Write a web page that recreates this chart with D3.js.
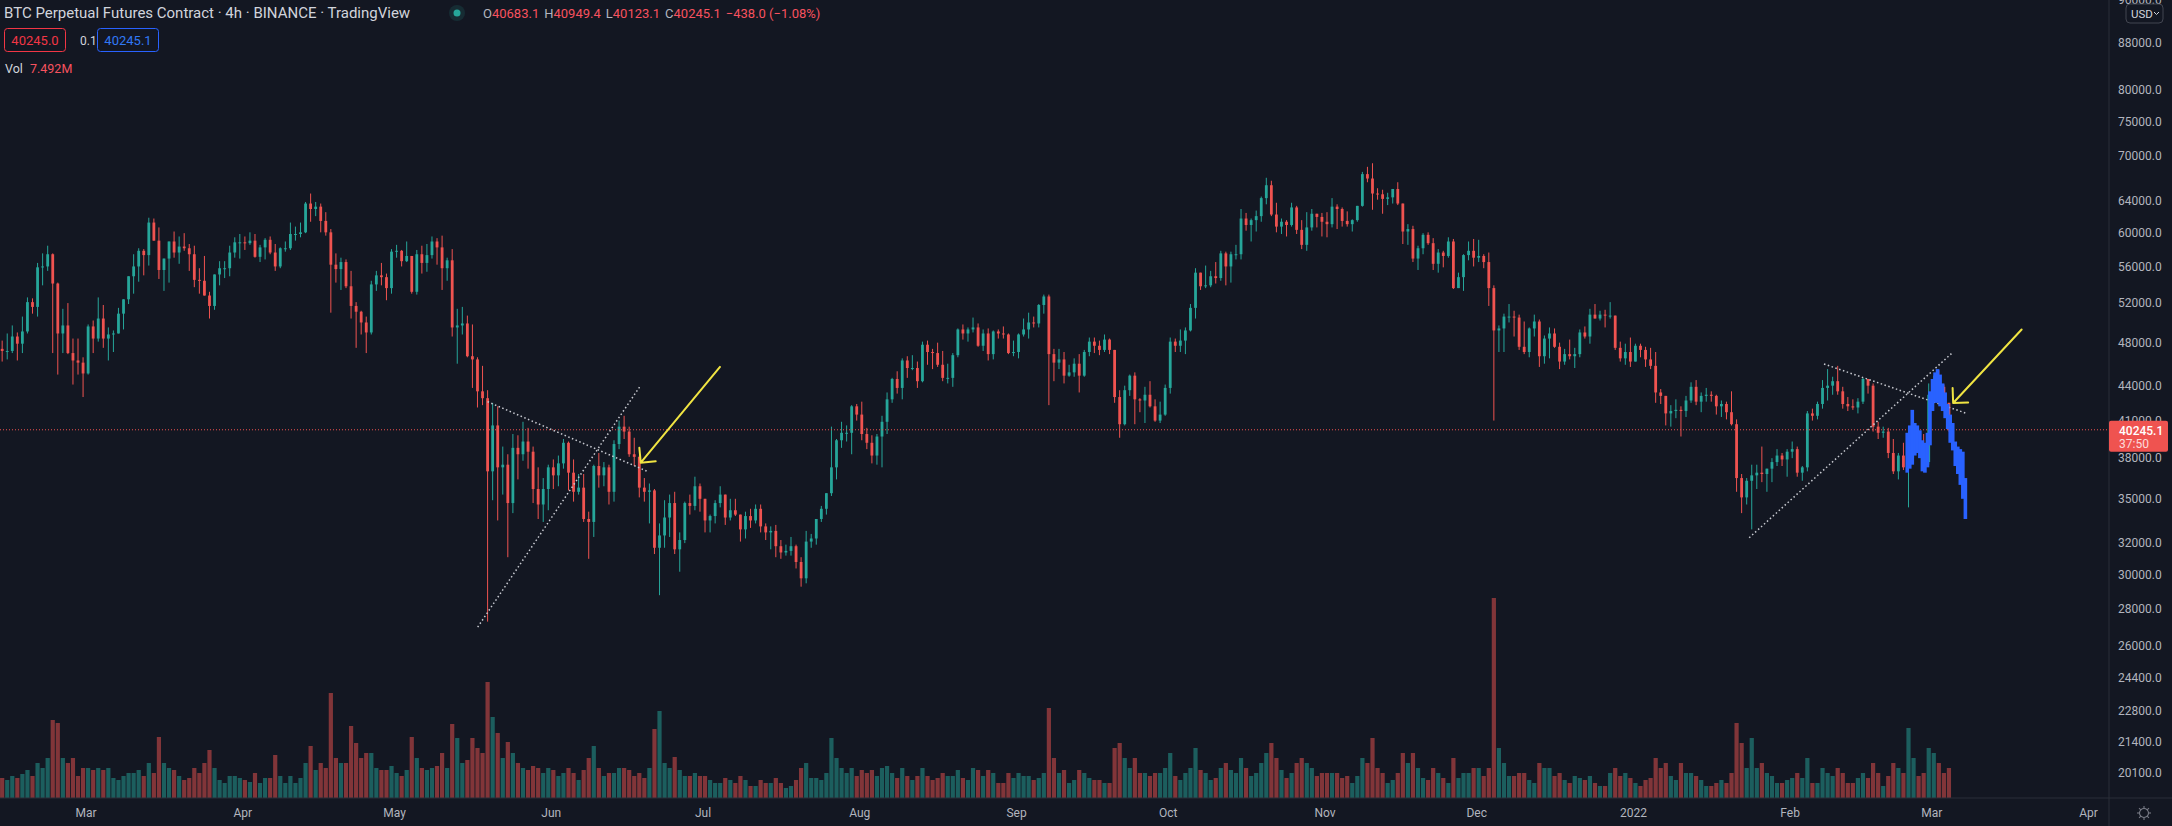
<!DOCTYPE html>
<html lang="en">
<head>
<meta charset="UTF-8">
<title>BTC Perpetual Futures Contract · 4h · BINANCE</title>
<script src="https://d3js.org/d3.v7.min.js"></script>
<style>
  html, body { margin: 0; padding: 0; background: #131722; overflow: hidden; }
  svg text { font-family: Roboto, "Noto Sans", sans-serif; }
</style>
</head>
<body>
<svg id="chart" width="2172" height="826"></svg>
<script>
// ---- data (prices in thousands USD, one candle per day from 2021-02-12) ----
const firstDay = Date.UTC(2021, 1, 12);
const firstOpenK = 47.4;

const highK = [
  // Feb 2021 (12th..28th)
  48.2,48.9,49.7,49.0,50.6,52.6,52.5,56.4,57.5,58.4,57.5,54.2,51.4,52.0,48.4,48.4,46.6,
  // Mar 2021
  49.8,50.2,52.6,51.8,49.5,49.2,51.5,52.4,54.9,57.4,58.1,58.0,61.8,61.7,60.6,56.9,58.9,60.1,59.5,59.9,58.6,58.4,55.8,57.2,53.2,55.1,56.6,56.6,58.4,59.4,59.8,
  // Apr 2021
  59.5,60.0,59.8,58.5,59.3,59.5,58.6,58.2,58.9,61.2,60.7,61.2,63.8,64.9,63.8,63.6,62.5,60.4,57.5,57.0,56.8,55.5,52.1,51.2,50.6,54.4,55.5,56.4,55.2,58.0,
  // May 2021
  58.5,57.9,58.9,57.2,57.9,58.4,58.6,59.5,59.3,59.6,57.0,58.0,51.4,51.6,50.7,49.8,46.6,45.8,43.6,42.5,42.2,38.9,38.3,39.9,39.8,40.9,40.4,38.9,37.3,36.5,37.5,
  // Jun 2021
  37.9,38.2,39.5,39.3,37.9,36.8,36.8,34.1,37.5,38.4,37.7,37.5,39.4,41.0,41.4,40.5,39.6,38.2,36.5,36.1,35.7,33.3,34.9,35.3,35.5,32.7,34.8,35.3,36.6,36.1,
  // Jul 2021
  35.0,33.9,34.9,35.9,35.3,35.0,35.0,33.9,34.1,34.3,34.6,34.6,33.3,33.1,33.2,32.2,31.9,32.4,31.9,31.1,32.8,32.6,33.6,34.5,35.4,40.5,39.5,40.9,40.6,42.3,42.4,
  // Aug 2021
  42.6,40.4,39.8,39.9,41.4,43.4,44.7,45.3,46.5,46.7,46.8,46.2,48.1,48.2,47.4,48.0,47.2,46.0,47.0,49.4,49.8,49.5,50.5,49.9,49.3,49.4,49.2,49.3,49.6,48.9,48.2,
  // Sep 2021
  48.9,50.4,51.0,50.6,51.9,52.9,52.9,47.4,47.4,47.1,45.9,46.5,46.9,47.3,48.5,48.5,48.2,48.8,48.4,47.3,43.6,44.0,45.0,45.2,42.9,43.9,44.4,42.8,42.6,44.1,
  // Oct 2021
  48.5,48.4,49.3,49.5,51.9,55.8,55.3,56.1,55.5,56.5,57.8,57.7,57.7,58.5,62.9,62.4,61.7,62.7,64.5,67.0,66.6,63.7,61.7,61.5,63.7,63.3,61.5,62.5,62.9,62.3,62.4,
  // Nov 2021
  62.5,64.3,63.5,63.1,62.6,61.6,63.3,67.8,68.5,69.0,65.6,65.4,65.0,65.5,66.4,63.6,61.0,60.8,58.4,59.9,60.0,59.3,58.0,57.8,59.4,59.2,55.3,57.4,58.9,59.2,
  // Dec 2021
  59.1,57.4,57.6,53.9,49.7,50.9,51.9,51.2,50.8,50.1,49.5,50.8,50.3,48.7,49.5,49.4,48.0,47.4,48.3,47.5,49.3,49.6,51.4,51.9,51.2,51.3,52.1,50.7,48.1,47.9,48.5,
  // Jan 2022
  47.9,47.9,47.6,47.5,47.1,43.7,43.1,42.3,42.8,42.2,43.1,44.3,44.5,43.4,43.8,43.5,43.2,42.7,42.6,43.5,41.1,36.8,36.5,37.5,37.5,38.9,37.2,38.0,38.7,38.4,38.7,
  // Feb 2022
  39.3,38.9,37.4,41.8,42.0,42.6,44.5,45.5,44.8,45.8,43.9,43.0,42.8,42.9,44.7,44.6,44.2,40.9,40.5,40.4,39.5,38.4,39.2,38.8,39.7,40.3,39.9,44.2,
  // Mar 2022 (1st..4th)
  44.9,45.4,44.1,42.5
];

const lowK = [
  46.2,46.4,47.0,46.3,47.0,48.9,50.9,50.6,53.9,55.5,47.0,45.0,47.0,46.9,44.1,45.0,43.0,
  45.0,47.0,48.1,47.5,46.3,47.1,48.9,49.3,51.9,53.0,54.3,55.0,56.1,59.0,54.6,53.3,54.2,57.0,56.3,57.8,55.5,53.7,53.0,52.8,50.4,51.3,53.9,54.7,54.9,57.0,56.9,
  57.9,58.5,57.0,56.5,56.8,57.4,55.5,55.8,57.7,57.9,59.0,59.4,59.9,61.3,62.0,60.0,59.6,51.0,54.2,53.4,53.6,50.4,47.5,48.8,47.0,48.8,53.3,53.9,52.3,53.0,
  57.0,56.0,56.5,53.0,52.9,55.2,55.4,56.9,56.2,53.4,54.4,48.6,46.0,48.8,46.6,43.8,42.1,42.3,27.3,34.9,33.5,35.3,31.1,34.0,36.4,37.8,37.2,34.7,33.6,33.4,34.2,
  35.7,35.9,37.2,35.6,34.8,35.3,33.4,31.0,32.4,35.8,35.9,34.6,34.8,38.7,39.5,38.1,37.4,35.1,34.8,33.3,31.3,28.8,31.7,32.4,31.3,30.2,32.0,33.9,34.2,34.1,
  32.7,32.7,33.3,34.4,33.2,33.5,33.8,32.1,32.3,33.0,33.3,32.7,32.2,31.6,31.1,31.0,31.2,31.2,30.4,29.3,29.5,31.7,31.9,33.4,33.9,35.2,36.4,38.8,39.3,38.3,41.0,
  39.4,38.7,37.6,37.5,37.3,39.9,42.5,43.3,42.8,44.7,45.4,43.8,44.3,45.9,45.5,45.7,44.4,44.2,43.9,46.6,48.3,48.1,49.0,47.6,47.2,46.3,46.4,48.4,48.4,46.9,46.7,
  46.5,48.6,48.4,49.5,49.5,50.9,42.3,44.4,45.5,44.2,44.8,44.8,43.4,44.8,46.7,47.0,46.8,47.1,46.9,42.5,39.6,40.6,43.1,40.7,41.7,40.8,42.1,40.9,40.8,41.4,
  43.3,47.1,47.1,46.9,49.1,50.4,53.4,53.6,53.7,54.1,54.4,53.9,54.2,56.8,56.8,60.2,58.9,60.1,61.3,63.5,62.0,60.0,59.8,59.5,60.7,59.8,58.0,57.8,60.2,60.6,59.5,
  59.4,60.6,60.4,60.7,60.7,60.1,61.3,63.2,66.4,62.8,64.1,62.3,63.4,63.6,63.4,58.6,58.5,56.5,55.6,57.4,58.5,55.6,55.3,55.9,57.0,53.5,53.6,53.3,56.7,56.0,
  56.5,55.8,51.7,41.0,47.1,47.1,50.0,48.6,47.3,46.9,46.6,48.6,45.7,46.0,46.5,47.5,45.5,45.9,46.4,45.6,46.6,48.4,47.9,50.4,50.2,49.5,50.4,47.3,46.2,45.9,45.7,
  46.2,46.6,45.7,45.5,42.5,42.4,40.6,40.5,41.2,39.7,41.3,42.5,42.3,41.7,42.6,42.6,41.5,41.3,41.1,40.6,35.5,34.0,34.6,32.9,35.7,36.2,35.5,36.2,37.4,37.4,36.6,
  38.0,36.6,36.3,37.0,41.0,41.1,42.0,42.7,43.2,43.2,42.0,41.8,41.9,41.6,42.4,43.3,40.1,39.5,39.6,38.0,36.8,36.4,37.1,34.4,38.0,38.6,37.0,37.5,
  42.8,43.3,41.8,40.1
];

const closeK = [
  47.2,47.2,48.6,47.9,49.1,52.1,51.6,55.9,56.0,57.4,54.1,48.9,49.7,47.0,46.3,46.1,45.1,
  49.6,48.4,50.4,48.4,48.8,48.9,50.9,52.4,54.9,56.0,57.8,57.3,61.2,59.0,55.6,56.9,58.9,57.6,58.3,58.1,57.4,54.5,54.4,52.8,51.7,55.1,55.8,55.8,57.6,58.8,58.8,
  58.7,59.0,57.1,58.2,59.1,57.6,56.0,58.1,58.1,59.8,59.8,60.0,63.6,62.9,63.2,61.4,60.0,56.2,55.7,56.5,53.8,51.7,51.1,50.0,49.0,54.0,55.0,54.8,53.6,57.7,
  57.8,56.6,57.2,53.2,57.4,56.4,57.3,58.9,58.2,55.8,56.7,49.5,49.7,49.9,46.7,46.4,43.5,42.9,37.0,40.6,37.3,37.5,34.7,38.8,38.3,39.3,38.5,35.7,34.6,35.7,37.3,
  36.7,37.6,39.2,36.9,35.5,35.8,33.6,33.4,37.4,36.7,37.3,35.5,39.1,40.5,40.1,38.3,38.1,35.8,35.5,35.6,31.7,32.5,33.7,34.7,31.6,32.2,34.7,34.5,35.9,35.0,
  33.5,33.8,34.7,35.3,33.7,34.2,33.9,32.9,33.8,33.5,34.3,33.1,32.7,32.8,31.8,31.4,31.5,31.8,30.8,29.8,32.1,32.3,33.6,34.3,35.4,37.3,39.4,40.0,40.0,42.2,41.5,
  39.9,39.2,38.2,39.7,40.9,42.8,44.6,43.8,46.3,45.6,45.6,44.4,47.8,47.1,47.0,45.9,44.7,44.7,46.8,49.3,48.9,49.3,49.5,47.7,48.9,46.9,49.1,48.9,48.8,47.0,47.1,
  48.8,49.3,50.0,49.9,51.8,52.7,46.9,46.1,46.4,44.9,45.2,46.0,44.9,47.1,48.1,47.7,47.3,48.3,47.3,43.0,40.7,43.6,44.9,42.8,42.7,43.2,42.2,41.0,41.5,43.8,
  48.1,47.7,48.2,49.2,51.5,55.3,53.8,53.9,54.9,54.7,57.5,56.0,57.4,57.4,61.7,60.9,61.5,62.0,64.3,66.0,62.2,60.7,61.3,60.9,63.1,60.3,58.5,60.6,62.3,61.9,61.3,
  61.0,63.2,62.9,61.4,61.0,61.5,63.3,67.5,66.9,64.9,64.8,64.2,64.4,65.5,63.6,60.1,60.4,56.9,58.1,59.7,58.7,56.3,57.6,57.2,58.9,53.6,54.8,57.3,57.8,57.0,
  57.2,56.5,53.6,49.2,49.4,50.6,50.6,50.5,47.6,47.1,49.4,50.1,46.7,48.4,48.9,47.6,46.2,46.9,46.7,46.9,49.0,48.6,50.8,50.4,50.8,50.7,50.7,47.5,46.5,47.1,46.2,
  47.7,47.3,46.4,45.8,43.4,43.1,41.6,41.8,41.9,41.8,42.7,43.9,42.6,43.1,43.2,43.1,42.2,42.4,41.7,40.7,36.5,35.1,36.3,36.7,36.9,36.8,37.2,37.7,38.2,37.9,38.5,
  38.7,36.9,37.3,41.6,41.4,42.4,43.8,44.0,44.4,43.5,42.4,42.2,42.1,42.6,44.6,44.0,40.5,40.0,40.1,38.4,37.0,38.2,37.3,38.3,39.2,39.1,37.7,43.2,
  44.4,43.9,42.5,40.2451
];

// volume, millions (same days)
const volumeM = [
  20,18,22,20,24,28,22,35,30,40,78,75,40,35,40,22,30,
  30,28,30,28,30,20,18,22,25,25,28,22,35,25,61,35,30,28,22,18,20,30,25,35,48,30,18,15,22,22,20,
  18,16,25,15,20,20,43,22,15,22,15,20,35,52,28,35,30,105,40,35,35,72,55,40,45,45,30,28,28,32,
  25,22,28,61,40,30,28,30,32,45,30,74,60,35,38,60,50,45,116,81,65,40,56,45,35,30,28,32,30,25,30,
  28,22,25,30,25,18,28,40,52,30,22,25,25,30,30,28,22,25,20,30,69,87,35,30,41,28,22,22,25,22,
  22,18,15,15,20,18,15,22,18,12,12,18,15,15,20,15,10,12,18,30,35,20,20,18,25,60,40,30,25,30,22,
  28,25,28,22,30,32,25,20,30,22,18,22,30,22,18,20,25,22,22,28,20,18,30,28,22,28,25,15,15,25,20,
  25,22,22,18,20,25,90,40,25,28,15,18,28,25,20,18,18,15,15,50,55,40,30,40,25,25,22,25,25,30,
  45,22,18,25,30,50,28,25,18,20,30,35,28,25,40,30,22,25,35,45,55,40,28,20,25,35,40,35,30,22,25,
  25,25,25,20,22,15,22,40,35,60,30,25,15,18,25,45,35,45,30,20,18,30,25,20,15,40,20,25,25,30,
  30,22,30,200,50,35,22,22,25,25,18,15,35,30,30,22,25,18,15,22,20,18,22,15,12,12,25,30,22,25,20,
  15,12,18,20,40,30,35,22,18,35,25,25,22,18,12,12,15,18,15,25,75,55,30,60,30,35,25,22,15,15,18,
  20,25,20,40,15,15,30,25,22,30,25,15,15,20,25,20,35,25,12,22,35,30,25,70,40,22,25,50,
  45,35,25,30
];

// blue "bars pattern" projection drawn over the last days
const blueTimes = [
  "2022-02-24T06:00Z","2022-02-24T18:00Z","2022-02-25T06:00Z","2022-02-25T18:00Z",
  "2022-02-26T06:00Z","2022-02-26T18:00Z","2022-02-27T06:00Z","2022-02-27T18:00Z",
  "2022-02-28T06:00Z","2022-02-28T18:00Z","2022-03-01T06:00Z","2022-03-01T18:00Z",
  "2022-03-02T06:00Z","2022-03-02T18:00Z","2022-03-03T06:00Z","2022-03-03T18:00Z",
  "2022-03-04T06:00Z","2022-03-04T18:00Z","2022-03-05T06:00Z","2022-03-05T18:00Z",
  "2022-03-06T06:00Z","2022-03-06T18:00Z","2022-03-07T06:00Z","2022-03-07T18:00Z"
];
const blueHighK = [40.0,40.6,41.9,40.8,40.6,40.2,39.4,39.2,40.0,43.5,44.6,45.2,45.5,45.0,44.2,43.4,42.4,41.5,40.8,39.3,38.9,38.7,38.5,36.5];
const blueLowK  = [36.9,37.2,37.5,38.2,38.4,38.0,37.0,36.9,37.3,39.0,41.8,42.5,42.5,42.2,41.8,41.2,40.3,39.2,38.6,37.4,36.8,36.0,35.0,33.6];

// drawings: [time, price] pairs
const trendLines = [
  [["2021-05-19T12:00Z", 42600], ["2021-06-20T02:00Z", 37000]],
  [["2021-05-17T13:00Z", 27000], ["2021-06-18T14:00Z", 43900]],
  [["2022-02-07T19:00Z", 45970], ["2022-03-08T00:00Z", 41600]],
  [["2022-01-24T00:00Z", 32350], ["2022-03-05T01:00Z", 46970]]
];
const arrows = [
  [["2021-07-04T11:00Z", 45700], ["2021-06-18T19:00Z", 37650]],
  [["2022-03-18T21:00Z", 49300], ["2022-03-05T08:00Z", 42480]]
];

const lastPrice = 40245.1;
const priceTicks = [96000, 88000, 80000, 75000, 70000, 64000, 60000, 56000, 52000, 48000, 44000, 41000,
                    38000, 35000, 32000, 30000, 28000, 26000, 24400, 22800, 21400, 20100];
const monthTicks = ["2021-03-01","2021-04-01","2021-05-01","2021-06-01","2021-07-01","2021-08-01","2021-09-01",
                    "2021-10-01","2021-11-01","2021-12-01","2022-01-01","2022-02-01","2022-03-01","2022-04-01"];
const monthLabels = ["Mar","Apr","May","Jun","Jul","Aug","Sep","Oct","Nov","Dec","2022","Feb","Mar","Apr"];

// ---- layout ----
const W = 2172, H = 826;
const paneRight = 2109, paneBottom = 798;
const DAY = 864e5;
const upColor = '#26a69a', downColor = '#ef5350';

const svg = d3.select('#chart');
svg.append('rect').attr('width', W).attr('height', H).attr('fill', '#131722');

const x = d3.scaleUtc()
  .domain([new Date("2021-03-01T00:00Z"), new Date("2022-04-01T00:00Z")])
  .range([85.6, 2088]);
const y = d3.scaleLog().domain([20100, 88000]).range([773, 43]);
const yVol = d3.scaleLinear().domain([0, 200]).range([paneBottom, 598]);

svg.append('defs').append('clipPath').attr('id', 'pane')
  .append('rect').attr('width', paneRight).attr('height', paneBottom);

const pane = svg.append('g').attr('clip-path', 'url(#pane)');

const candles = closeK.map((c, i) => {
  const o = i === 0 ? firstOpenK : closeK[i - 1];
  return {
    t: new Date(firstDay + i * DAY + DAY / 2),
    o: o * 1000, h: highK[i] * 1000, l: lowK[i] * 1000, c: c * 1000,
    v: volumeM[i], up: c >= o
  };
});

const bw = 2.8;   // candle body width
const vw = 4.2;   // volume bar width

// volume
pane.append('g').selectAll('rect')
  .data(candles)
  .enter().append('rect')
  .attr('x', d => x(d.t) - vw / 2)
  .attr('y', d => yVol(d.v))
  .attr('width', vw)
  .attr('height', d => paneBottom - yVol(d.v))
  .attr('fill', d => d.up ? upColor : downColor)
  .attr('opacity', 0.5);

// candles
const cg = pane.append('g');
cg.selectAll('line')
  .data(candles)
  .enter().append('line')
  .attr('x1', d => x(d.t)).attr('x2', d => x(d.t))
  .attr('y1', d => y(d.h)).attr('y2', d => y(d.l))
  .attr('stroke', d => d.up ? upColor : downColor)
  .attr('stroke-width', 1);
cg.selectAll('rect')
  .data(candles)
  .enter().append('rect')
  .attr('x', d => x(d.t) - bw / 2)
  .attr('y', d => y(Math.max(d.o, d.c)))
  .attr('width', bw)
  .attr('height', d => Math.max(1, Math.abs(y(d.o) - y(d.c))))
  .attr('fill', d => d.up ? upColor : downColor);

// last price line
pane.append('line')
  .attr('x1', 0).attr('x2', paneRight)
  .attr('y1', y(lastPrice)).attr('y2', y(lastPrice))
  .attr('stroke', '#ef5350').attr('stroke-width', 1)
  .attr('stroke-dasharray', '1,2');

// trend lines
pane.append('g').selectAll('line')
  .data(trendLines)
  .enter().append('line')
  .attr('x1', d => x(new Date(d[0][0]))).attr('y1', d => y(d[0][1]))
  .attr('x2', d => x(new Date(d[1][0]))).attr('y2', d => y(d[1][1]))
  .attr('stroke', '#c8cad1').attr('stroke-width', 1.5)
  .attr('stroke-dasharray', '1.5,2.5');

// blue bars pattern
pane.append('g').selectAll('rect')
  .data(blueTimes.map((t, i) => ({ t: new Date(t), h: blueHighK[i] * 1000, l: blueLowK[i] * 1000 })))
  .enter().append('rect')
  .attr('x', d => x(d.t) - 1.8)
  .attr('y', d => y(d.h))
  .attr('width', 3.6)
  .attr('height', d => y(d.l) - y(d.h))
  .attr('fill', '#2962ff');

// yellow arrows
arrows.forEach(a => {
  const x0 = x(new Date(a[0][0])), y0 = y(a[0][1]);
  const x1 = x(new Date(a[1][0])), y1 = y(a[1][1]);
  const ang = Math.atan2(y0 - y1, x0 - x1);
  const len = 15, spread = Math.PI / 4;
  const path = d3.path();
  path.moveTo(x0, y0); path.lineTo(x1, y1);
  path.moveTo(x1 + len * Math.cos(ang - spread), y1 + len * Math.sin(ang - spread));
  path.lineTo(x1, y1);
  path.lineTo(x1 + len * Math.cos(ang + spread), y1 + len * Math.sin(ang + spread));
  pane.append('path').attr('d', path.toString())
    .attr('fill', 'none').attr('stroke', '#f0e442').attr('stroke-width', 2)
    .attr('stroke-linecap', 'round').attr('stroke-linejoin', 'round');
});

// ---- scales ----
svg.append('line').attr('x1', paneRight).attr('x2', paneRight).attr('y1', 0).attr('y2', H)
  .attr('stroke', '#2a2e39');
svg.append('line').attr('x1', 0).attr('x2', W).attr('y1', paneBottom).attr('y2', paneBottom)
  .attr('stroke', '#2a2e39');

const yAxis = svg.append('g')
  .attr('transform', `translate(2118,0)`)
  .call(d3.axisRight(y).tickValues(priceTicks).tickFormat(d => d.toFixed(1)).tickSize(0).tickPadding(0));
yAxis.select('.domain').remove();
yAxis.selectAll('text').attr('fill', '#b2b5be').attr('font-size', 12)
  .attr('font-family', 'Roboto, sans-serif');

const xAxis = svg.append('g')
  .attr('transform', `translate(0,${paneBottom})`)
  .call(d3.axisBottom(x).tickValues(monthTicks.map(d => new Date(d + "T00:00Z")))
    .tickFormat((d, i) => monthLabels[i]).tickSize(0).tickPadding(10));
xAxis.select('.domain').remove();
xAxis.selectAll('text').attr('fill', '#b2b5be').attr('font-size', 12)
  .attr('font-family', 'Roboto, sans-serif');

// last price label on the scale
const lp = svg.append('g');
lp.append('rect').attr('x', paneRight).attr('y', y(lastPrice) - 9).attr('width', 59).attr('height', 31)
  .attr('fill', '#ef5350').attr('rx', 2);
lp.append('text').attr('x', 2119).attr('y', y(lastPrice) + 5).text('40245.1')
  .attr('fill', '#ffffff').attr('font-size', 12).attr('font-weight', 500);
lp.append('text').attr('x', 2119).attr('y', y(lastPrice) + 18).text('37:50')
  .attr('fill', '#ffffff').attr('fill-opacity', 0.8).attr('font-size', 12);

// USD button
svg.append('rect').attr('x', 2126).attr('y', 4).attr('width', 37).attr('height', 19).attr('rx', 4)
  .attr('fill', '#131722').attr('stroke', '#434651');
svg.append('text').attr('x', 2131).attr('y', 18).text('USD')
  .attr('fill', '#d1d4dc').attr('font-size', 11.5);
svg.append('path').attr('d', 'M2154,12 l2.5,2.5 l2.5,-2.5')
  .attr('fill', 'none').attr('stroke', '#d1d4dc').attr('stroke-width', 1);

// settings icon
const gear = svg.append('g').attr('transform', 'translate(2144,813)')
  .attr('stroke', '#787b86').attr('fill', 'none').attr('stroke-width', 1.1);
gear.append('circle').attr('r', 4.5);
d3.range(8).forEach(k => {
  const a = k * Math.PI / 4;
  gear.append('line').attr('x1', 4.5 * Math.cos(a)).attr('y1', 4.5 * Math.sin(a))
    .attr('x2', 7 * Math.cos(a)).attr('y2', 7 * Math.sin(a));
});

// ---- legend / header ----
const head = svg.append('g');
head.append('text').attr('x', 4).attr('y', 18).attr('font-size', 15).attr('fill', '#d1d4dc')
  .text('BTC Perpetual Futures Contract · 4h · BINANCE · TradingView');
head.append('circle').attr('cx', 457).attr('cy', 13).attr('r', 8).attr('fill', 'rgba(38,166,154,0.15)');
head.append('circle').attr('cx', 457).attr('cy', 13).attr('r', 3.5).attr('fill', '#26a69a');

const ohlc = head.append('text').attr('x', 483).attr('y', 18).attr('font-size', 13);
[['O', '40683.1'], ['H', '40949.4'], ['L', '40123.1'], ['C', '40245.1']].forEach(([k, v], i) => {
  ohlc.append('tspan').attr('fill', '#b2b5be').attr('dx', i ? 5 : 0).text(k);
  ohlc.append('tspan').attr('fill', '#f7525f').text(v);
});
ohlc.append('tspan').attr('fill', '#f7525f').attr('dx', 5).text('−438.0 (−1.08%)');

head.append('rect').attr('x', 4.5).attr('y', 28.5).attr('width', 61).attr('height', 23).attr('rx', 3)
  .attr('fill', 'none').attr('stroke', '#f23645');
head.append('text').attr('x', 35).attr('y', 45).attr('text-anchor', 'middle').attr('font-size', 13)
  .attr('fill', '#f23645').text('40245.0');
head.append('text').attr('x', 80).attr('y', 45).attr('font-size', 12).attr('fill', '#d1d4dc').text('0.1');
head.append('rect').attr('x', 97.5).attr('y', 28.5).attr('width', 61).attr('height', 23).attr('rx', 3)
  .attr('fill', 'none').attr('stroke', '#2962ff');
head.append('text').attr('x', 128).attr('y', 45).attr('text-anchor', 'middle').attr('font-size', 13)
  .attr('fill', '#3179f5').text('40245.1');

head.append('text').attr('x', 5).attr('y', 73).attr('font-size', 12.5).attr('fill', '#d1d4dc').text('Vol');
head.append('text').attr('x', 30).attr('y', 73).attr('font-size', 12.5).attr('fill', '#f7525f').text('7.492M');
</script>
</body>
</html>
